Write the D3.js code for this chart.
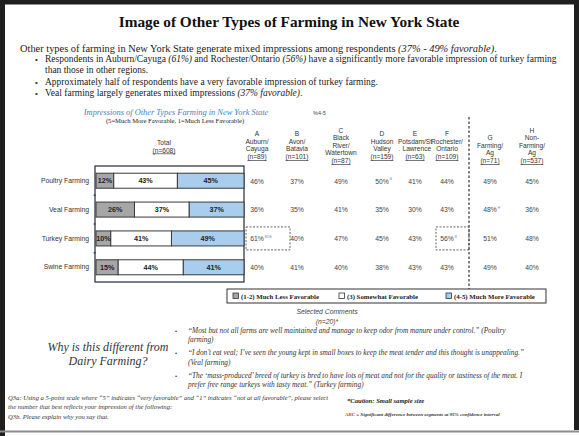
<!DOCTYPE html>
<html>
<head>
<meta charset="utf-8">
<script src="https://cdn.jsdelivr.net/npm/d3@7"></script>
<style>
  body { margin: 0; background: #fff; }
  svg { display: block; }
</style>
</head>
<body>
<script>
// chart values
const categories = ["Poultry Farming", "Veal Farming", "Turkey Farming", "Swine Farming"];
const lessFavorable = [12, 26, 10, 15];
const somewhatFavorable = [43, 37, 41, 44];
const moreFavorable = [45, 37, 49, 41];

const segmentKeys = ["A", "B", "C", "D", "E", "F", "G", "H"];
const segmentNames = [
  ["Auburn/", "Cayuga"], ["Avon/", "Batavia"], ["Black", "River/", "Watertown"],
  ["Hudson", "Valley"], ["Potsdam/St", ". Lawrence"], ["Rochester/", "Ontario"],
  ["Farming/", "Ag"], ["Non-", "Farming/", "Ag"]
];
const segmentN = ["(n=89)", "(n=101)", "(n=87)", "(n=159)", "(n=63)", "(n=109)", "(n=71)", "(n=537)"];
const poultrySeg = [46, 37, 49, 50, 41, 44, 49, 45];
const vealSeg = [36, 35, 41, 35, 30, 43, 48, 36];
const turkeySeg = [61, 40, 47, 45, 43, 56, 51, 48];
const swineSeg = [40, 41, 40, 38, 43, 43, 49, 40];
// significance letters: [row, segment, letters]
const sigMarks = [[0, 3, "B"], [1, 6, "H"], [2, 0, "BDE"], [2, 5, "B"]];
const boxedCells = [[2, 0], [2, 5]];

const legendLabels = ["(1-2) Much Less Favorable", "(3) Somewhat Favorable", "(4-5) Much  More Favorable"];
const colors = ["#a6a6a6", "#ffffff", "#a9cdec"];

const width = 579, height = 436;
const serif = "'Liberation Serif', 'Times New Roman', serif";
const sans = "'Liberation Sans', Arial, sans-serif";

const svg = d3.select("body").append("svg")
  .attr("width", width)
  .attr("height", height);

// page frame
svg.append("rect").attr("width", width).attr("height", height).attr("fill", "#fff");
svg.append("path")
  .attr("d", "M2.5,436 V2 H576.5 V430")
  .attr("fill", "none").attr("stroke", "#1f1f1f").attr("stroke-width", 5);
svg.append("line")
  .attr("x1", 0).attr("x2", width).attr("y1", 431.5).attr("y2", 431.5)
  .attr("stroke", "#8c8c8c").attr("stroke-width", 2);

// title + bullets
svg.append("text")
  .attr("x", 289).attr("y", 27)
  .attr("text-anchor", "middle")
  .attr("font-family", serif).attr("font-weight", "bold").attr("font-size", 15.3)
  .attr("fill", "#111")
  .text("Image of Other Types of Farming in New York State");

function richLine(x, y, parts, size) {
  const t = svg.append("text").attr("x", x).attr("y", y)
    .attr("font-family", serif).attr("font-size", size).attr("fill", "#1a1a1a");
  parts.forEach(p => {
    t.append("tspan").attr("font-style", p[1] ? "italic" : null).text(p[0]);
  });
  return t;
}

richLine(20, 51.5, [["Other types of farming in New York State generate mixed impressions among respondents "], ["(37% - 49% favorable)", 1], ["."]], 10.4);
const bullets = [
  [62, [["Respondents in Auburn/Cayuga "], ["(61%)", 1], [" and Rochester/Ontario "], ["(56%)", 1], [" have a significantly more favorable impression of turkey farming"]]],
  [72.5, [["than those in other regions."]], true],
  [84.5, [["Approximately half of respondents have a very favorable impression of turkey farming."]]],
  [96, [["Veal farming largely generates mixed impressions "], ["(37% favorable)", 1], ["."]]]
];
bullets.forEach(b => {
  if (!b[2]) {
    svg.append("text").attr("x", 35).attr("y", b[0])
      .attr("font-family", sans).attr("font-size", 8).attr("fill", "#333").text("•");
  }
  richLine(45, b[0], b[1], 9.5);
});

// chart heading
svg.append("text")
  .attr("x", 176).attr("y", 114.5)
  .attr("text-anchor", "middle")
  .attr("font-family", serif).attr("font-style", "italic").attr("font-size", 8.4)
  .attr("fill", "#4a7ebf")
  .text("Impressions of Other Types Farming in New York State");
svg.append("text")
  .attr("x", 175).attr("y", 123)
  .attr("text-anchor", "middle")
  .attr("font-family", serif).attr("font-size", 6.6).attr("fill", "#222")
  .text("(5=Much More  Favorable, 1=Much Less Favorable)");
svg.append("text")
  .attr("x", 313).attr("y", 115)
  .attr("font-family", sans).attr("font-size", 5.5).attr("fill", "#444")
  .text("%4-5");

// stacked bars
const x = d3.scaleLinear().domain([0, 100]).range([96, 244]);
const y = d3.scaleBand().domain(categories).range([166, 282])
  .paddingInner(0.48).paddingOuter(0.25);

svg.append("rect")
  .attr("x", x(0) - 1).attr("y", 166)
  .attr("width", x(100) - x(0) + 1).attr("height", 116)
  .attr("fill", "#fff").attr("stroke", "#1f2a3a").attr("stroke-width", 1.2);

svg.append("g")
  .attr("transform", `translate(${x(0) - 1},0)`)
  .call(d3.axisLeft(y).tickSize(0).tickPadding(6))
  .call(g => g.select(".domain").remove())
  .call(g => g.selectAll("text")
    .attr("font-family", sans).attr("font-size", 6.8).attr("fill", "#333"));

// small ticks between categories
svg.append("g").selectAll("line")
  .data(categories.slice(1))
  .join("line")
    .attr("x1", x(0) - 2.5).attr("x2", x(0))
    .attr("y1", d => y(d) - y.step() * y.paddingInner() / 2)
    .attr("y2", d => y(d) - y.step() * y.paddingInner() / 2)
    .attr("stroke", "#333").attr("stroke-width", 1);

const stackRows = categories.map((c, i) => ({
  cat: c, vals: [lessFavorable[i], somewhatFavorable[i], moreFavorable[i]]
}));
stackRows.forEach(r => {
  let acc = 0;
  r.segs = r.vals.map((v, k) => {
    const s = { cat: r.cat, v, k, x0: acc, x1: acc + v };
    acc += v;
    return s;
  });
});
const segs = stackRows.flatMap(r => r.segs);

svg.append("g").selectAll("rect")
  .data(segs)
  .join("rect")
    .attr("x", d => x(d.x0))
    .attr("y", d => y(d.cat))
    .attr("width", d => x(d.x1) - x(d.x0))
    .attr("height", y.bandwidth())
    .attr("fill", d => colors[d.k])
    .attr("stroke", "#3a3a3a").attr("stroke-width", 1);

svg.append("g").selectAll("text")
  .data(segs)
  .join("text")
    .attr("x", d => (x(d.x0) + x(d.x1)) / 2)
    .attr("y", d => y(d.cat) + y.bandwidth() / 2 + 2.6)
    .attr("text-anchor", "middle")
    .attr("font-family", sans).attr("font-weight", "bold").attr("font-size", 7.2)
    .attr("fill", "#222")
    .text(d => d.v + "%");

// Total header
svg.append("text").attr("x", 164).attr("y", 145).attr("text-anchor", "middle")
  .attr("font-family", sans).attr("font-size", 6.6).attr("fill", "#333").text("Total");
svg.append("text").attr("x", 164).attr("y", 152.5).attr("text-anchor", "middle")
  .attr("font-family", sans).attr("font-size", 6.6).attr("fill", "#333")
  .attr("text-decoration", "underline").text("(n=608)");

// segment columns
const colX = d3.scaleOrdinal().domain(segmentKeys)
  .range([257, 297, 341, 382, 415, 447, 490, 532]);
const lineH = 7.6;
segmentKeys.forEach((k, i) => {
  const lines = [k].concat(segmentNames[i]);
  const bottom = (i >= 6 || i === 2) ? 163 : 159;
  const top = bottom - lines.length * lineH;
  const g = svg.append("g")
    .attr("font-family", sans).attr("font-size", 6.6).attr("fill", "#333")
    .attr("text-anchor", "middle");
  lines.forEach((l, j) => {
    g.append("text").attr("x", colX(k)).attr("y", top + j * lineH).text(l);
  });
  g.append("text").attr("x", colX(k)).attr("y", bottom)
    .attr("text-decoration", "underline").text(segmentN[i]);
});

const segRows = [poultrySeg, vealSeg, turkeySeg, swineSeg];
const cells = segRows.flatMap((row, r) => row.map((v, s) => ({ r, s, v })));
svg.append("g").selectAll("text")
  .data(cells)
  .join("text")
    .attr("x", d => colX(segmentKeys[d.s]))
    .attr("y", d => y(categories[d.r]) + y.bandwidth() / 2 + 2.8)
    .attr("text-anchor", "middle")
    .attr("font-family", sans).attr("font-size", 6.8).attr("fill", "#444")
    .text(d => d.v + "%");

svg.append("g").selectAll("text")
  .data(sigMarks)
  .join("text")
    .attr("x", d => colX(segmentKeys[d[1]]) + 7.5)
    .attr("y", d => y(categories[d[0]]) + y.bandwidth() / 2 - 0.5)
    .attr("font-family", sans).attr("font-size", 3.6).attr("fill", "#6f8fd0")
    .text(d => d[2]);

svg.append("g").selectAll("rect")
  .data(boxedCells)
  .join("rect")
    .attr("x", d => colX(segmentKeys[d[1]]) - 11)
    .attr("y", d => y(categories[d[0]]) - 4)
    .attr("width", d => d[1] === 0 ? 44 : 33)
    .attr("height", d => y.bandwidth() + 8)
    .attr("fill", "none").attr("stroke", "#555").attr("stroke-width", 0.9)
    .attr("stroke-dasharray", "2,1.5");

// dotted divider between region and farming columns
svg.append("line")
  .attr("x1", 469).attr("x2", 469).attr("y1", 117).attr("y2", 294)
  .attr("stroke", "#333").attr("stroke-width", 1.2).attr("stroke-dasharray", "2.5,2");

// legend
const legend = svg.append("g");
legend.append("rect")
  .attr("x", 227).attr("y", 289).attr("width", 319).attr("height", 14)
  .attr("fill", "#fff").attr("stroke", "#333").attr("stroke-width", 1);
const legX = [233, 339, 446];
legendLabels.forEach((l, i) => {
  legend.append("rect")
    .attr("x", legX[i]).attr("y", 293).attr("width", 5.5).attr("height", 5.5)
    .attr("fill", colors[i]).attr("stroke", "#333").attr("stroke-width", 0.8);
  legend.append("text")
    .attr("x", legX[i] + 8).attr("y", 299)
    .attr("font-family", serif).attr("font-weight", "bold").attr("font-size", 6.8)
    .attr("fill", "#222").text(l);
});

// comments
svg.append("text").attr("x", 327).attr("y", 314).attr("text-anchor", "middle")
  .attr("font-family", sans).attr("font-style", "italic").attr("font-size", 6.8)
  .attr("fill", "#444").text("Selected Comments");
svg.append("text").attr("x", 327).attr("y", 324).attr("text-anchor", "middle")
  .attr("font-family", sans).attr("font-style", "italic").attr("font-size", 6.8)
  .attr("fill", "#444").text("(n=20)*");

svg.append("text").attr("x", 108).attr("y", 351).attr("text-anchor", "middle")
  .attr("font-family", serif).attr("font-style", "italic").attr("font-size", 12)
  .attr("fill", "#333").text("Why is this different from");
svg.append("text").attr("x", 108).attr("y", 365).attr("text-anchor", "middle")
  .attr("font-family", serif).attr("font-style", "italic").attr("font-size", 12)
  .attr("fill", "#333").text("Dairy Farming?");

const comments = [
  [332.5, ["\u201cMost but not all farms are well maintained and manage to keep odor from manure under control.\u201d (Poultry", "farming)"]],
  [355, ["\u201cI don\u2019t eat veal; I\u2019ve seen the young kept in small boxes to keep the meat tender and this thought is unappealing.\u201d", "(Veal farming)"]],
  [377.5, ["\u201cThe \u2018mass-produced\u2019 breed of turkey is bred to have lots of meat and not for the quality or tastiness of the meat. I", "prefer free range turkeys with tasty meat.\u201d (Turkey farming)"]]
];
comments.forEach(c => {
  svg.append("text").attr("x", 175).attr("y", c[0])
    .attr("font-family", sans).attr("font-size", 6).attr("fill", "#444").text("•");
  c[1].forEach((l, j) => {
    svg.append("text").attr("x", 188).attr("y", c[0] + j * 9.5)
      .attr("font-family", serif).attr("font-style", "italic").attr("font-size", 7.3)
      .attr("fill", "#333").text(l);
  });
});

const questions = [
  "Q3a:  Using a 5-point scale where \u201c5\u201d indicates \u201cvery favorable\u201d and \u201c1\u201d indicates \u201cnot at all favorable\u201d, please select",
  "the number that best reflects your impression of the following:",
  "Q3b.  Please explain why you say that."
];
questions.forEach((q, j) => {
  svg.append("text").attr("x", 8).attr("y", 400 + j * 9.3)
    .attr("font-family", serif).attr("font-style", "italic").attr("font-size", 6.6)
    .attr("fill", "#333").text(q);
});

svg.append("text").attr("x", 347).attr("y", 403)
  .attr("font-family", serif).attr("font-style", "italic").attr("font-weight", "bold")
  .attr("font-size", 6.6).attr("fill", "#222").text("*Caution: Small sample size");
const note = svg.append("text").attr("x", 345).attr("y", 416)
  .attr("font-family", serif).attr("font-style", "italic").attr("font-weight", "bold")
  .attr("font-size", 5).attr("fill", "#333");
note.append("tspan").attr("fill", "#e0302a").text("ABC");
note.append("tspan").text(" = Significant difference between segments at 95% confidence interval");
</script>
</body>
</html>
